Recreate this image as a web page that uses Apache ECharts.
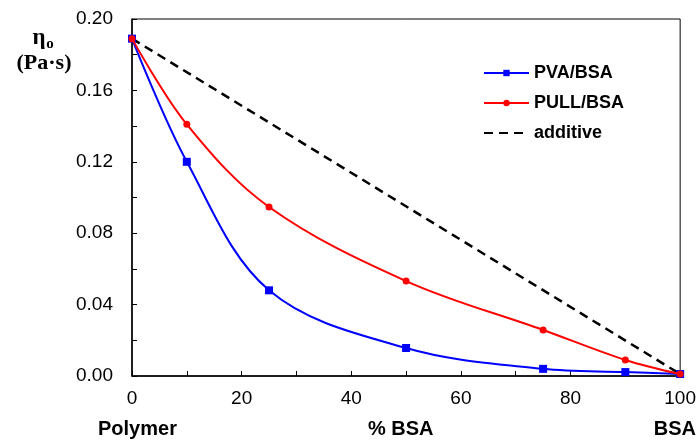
<!DOCTYPE html>
<html>
<head>
<meta charset="utf-8">
<script src="https://cdn.jsdelivr.net/npm/echarts@6/dist/echarts.min.js"></script>
<style>
  html, body { margin: 0; padding: 0; background: #fff; }
  #chart { width: 699px; height: 441px; }
</style>
</head>
<body>
<div id="chart"></div>
<script>
// Percent BSA in each blend
const bsaPercent = [0, 10, 25, 50, 75, 90, 100];
// Zero-shear viscosity (Pa·s)
const pvaBsa  = [0.189, 0.120, 0.048, 0.0157, 0.0040, 0.0022, 0.0011];
const pullBsa = [0.189, 0.141, 0.0947, 0.0532, 0.0258, 0.0090, 0.0011];
const additive = [[0, 0.189], [100, 0.0011]];

const pair = (xs, ys) => xs.map((x, i) => [x, ys[i]]);

const chart = echarts.init(document.getElementById('chart'));
const sans = 'Liberation Sans, Arial, sans-serif';
const serif = 'Liberation Serif, Times New Roman, serif';
const axisFont = { fontFamily: sans, fontSize: 19, color: '#000' };

chart.setOption({
  animation: false,
  backgroundColor: '#fff',
  grid: { left: 132, right: 18, top: 19, bottom: 65, show: true, borderColor: '#000', borderWidth: 1 },
  xAxis: {
    type: 'value', min: 0, max: 100, interval: 20,
    axisLine: { lineStyle: { color: '#000', width: 1.5 } },
    axisTick: { inside: true, length: 5, lineStyle: { color: '#000' } },
    minorTick: { show: true, splitNumber: 2, length: 5, lineStyle: { color: '#000' } },
    splitLine: { show: false },
    axisLabel: Object.assign({ margin: 13 }, axisFont)
  },
  yAxis: {
    type: 'value', min: 0, max: 0.20, interval: 0.04,
    axisLine: { show: true, lineStyle: { color: '#000', width: 1.5 } },
    axisTick: { show: true, inside: true, length: 5, lineStyle: { color: '#000' } },
    minorTick: { show: true, splitNumber: 2, length: 5, lineStyle: { color: '#000' } },
    splitLine: { show: false },
    axisLabel: Object.assign({ margin: 19, formatter: v => v.toFixed(2) }, axisFont)
  },
  legend: {
    orient: 'vertical', left: 483, top: 63, padding: 0, itemGap: 10,
    itemWidth: 45, itemHeight: 8,
    textStyle: { fontFamily: sans, fontSize: 18, fontWeight: 'bold', color: '#000', lineHeight: 20 },
    data: ['PVA/BSA', 'PULL/BSA', 'additive']
  },
  graphic: [
    { type: 'text', x: 39, y: 38, style: { text: 'η', font: 'bold 23px ' + serif, fill: '#000', textAlign: 'center', textVerticalAlign: 'middle' } },
    { type: 'text', x: 50, y: 44, style: { text: 'o', font: 'bold 15px ' + serif, fill: '#000', textAlign: 'center', textVerticalAlign: 'middle' } },
    { type: 'text', x: 44, y: 63, style: { text: '(Pa·s)', font: 'bold 22px ' + serif, fill: '#000', textAlign: 'center', textVerticalAlign: 'middle' } },
    { type: 'text', x: 98, y: 429, style: { text: 'Polymer', font: 'bold 20px ' + sans, fill: '#000', textAlign: 'left', textVerticalAlign: 'middle' } },
    { type: 'text', x: 368, y: 429, style: { text: '% BSA', font: 'bold 20px ' + sans, fill: '#000', textAlign: 'left', textVerticalAlign: 'middle' } },
    { type: 'text', x: 696, y: 429, style: { text: 'BSA', font: 'bold 20px ' + sans, fill: '#000', textAlign: 'right', textVerticalAlign: 'middle' } }
  ],
  series: [
    {
      name: 'additive', type: 'line', data: additive, showSymbol: false, symbol: 'none',
      lineStyle: { color: '#000', width: 2.5, type: [9, 6] },
      itemStyle: { color: 'rgba(0,0,0,0)', borderWidth: 0 }, z: 1
    },
    {
      name: 'PVA/BSA', type: 'line', data: pair(bsaPercent, pvaBsa), smooth: 0.35,
      symbol: 'rect', symbolSize: 8,
      lineStyle: { color: '#0000ff', width: 2 }, itemStyle: { color: '#0000ff' }, z: 2
    },
    {
      name: 'PULL/BSA', type: 'line', data: pair(bsaPercent, pullBsa), smooth: 0.35,
      symbol: 'circle', symbolSize: 7,
      lineStyle: { color: '#ff0000', width: 2 }, itemStyle: { color: '#ff0000' }, z: 3
    }
  ]
});
</script>
</body>
</html>
